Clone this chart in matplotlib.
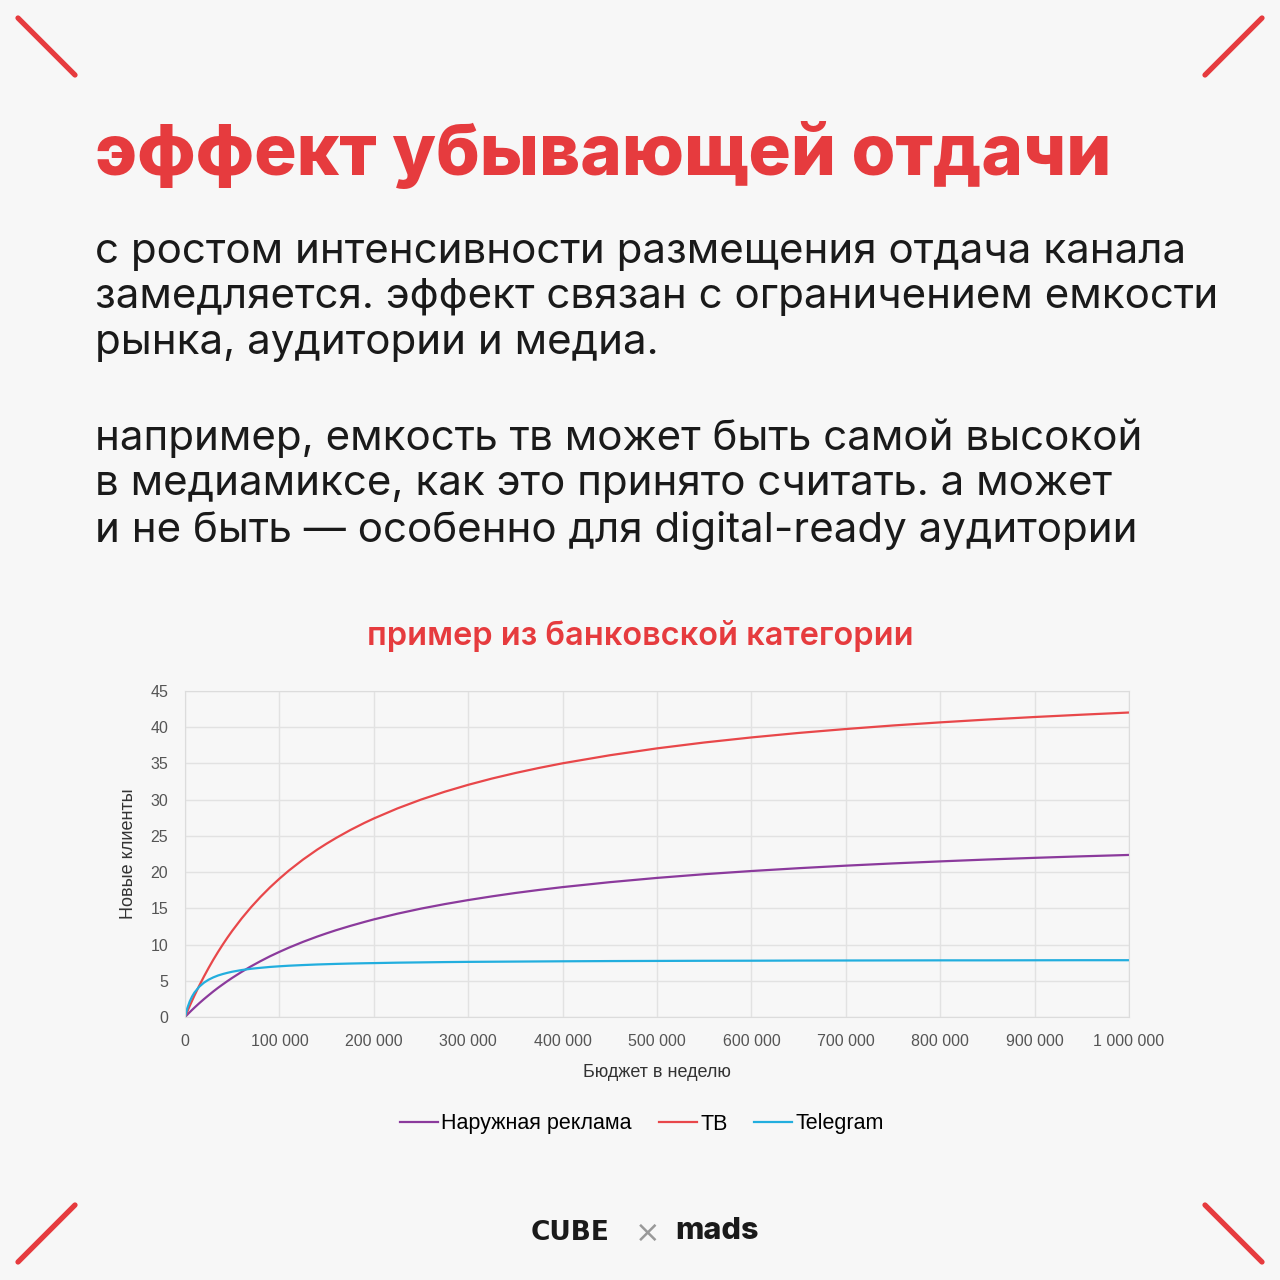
import numpy as np
import matplotlib
matplotlib.use("Agg")
import matplotlib.pyplot as plt
from matplotlib.lines import Line2D
from matplotlib.ticker import FuncFormatter, MultipleLocator

# budget per week and new clients
budget = [0, 2500, 5000, 7500, 10000, 15000, 20000, 25000, 30000, 35000, 40000,
          45000, 50000, 60000, 70000, 80000, 90000, 100000, 110000, 125000,
          140000, 150000, 160000, 175000, 190000, 200000, 225000, 250000,
          275000, 300000, 325000, 350000, 375000, 400000, 450000, 500000,
          550000, 600000, 650000, 700000, 750000, 800000, 850000, 900000,
          950000, 1000000]
outdoor = [0, 0.33, 0.66, 0.98, 1.29, 1.89, 2.46, 3.00, 3.53, 4.03, 4.50,
           4.96, 5.40, 6.23, 7.00, 7.71, 8.38, 8.99, 9.57, 10.37,
           11.10, 11.55, 11.98, 12.57, 13.12, 13.47, 14.26, 14.96,
           15.58, 16.14, 16.65, 17.12, 17.54, 17.93, 18.61, 19.20,
           19.71, 20.15, 20.54, 20.89, 21.20, 21.48, 21.74, 21.97,
           22.18, 22.37]
tv = [0, 0.78, 1.53, 2.25, 2.96, 4.30, 5.57, 6.77, 7.91, 8.98, 10.0,
      10.97, 11.89, 13.6, 15.16, 16.58, 17.89, 19.09, 20.21, 21.73,
      23.10, 23.93, 24.71, 25.80, 26.79, 27.40, 28.79, 30.01,
      31.09, 32.05, 32.91, 33.68, 34.38, 35.02, 36.13, 37.08,
      37.89, 38.59, 39.21, 39.75, 40.24, 40.67, 41.06, 41.41,
      41.73, 42.03]
telegram = [0, 1.23, 2.14, 2.83, 3.37, 4.17, 4.73, 5.15, 5.47, 5.73, 5.93,
            6.10, 6.25, 6.48, 6.66, 6.79, 6.91, 7.00, 7.08, 7.17,
            7.25, 7.29, 7.33, 7.38, 7.42, 7.44, 7.50, 7.54,
            7.58, 7.61, 7.63, 7.65, 7.67, 7.69, 7.72, 7.74,
            7.76, 7.77, 7.79, 7.80, 7.81, 7.82, 7.82, 7.83,
            7.84, 7.84]
series_names = ["Наружная реклама", "ТВ", "Telegram"]
series_colors = ["#8b3a9c", "#e8474a", "#22aede"]

RED = "#e63b3e"
BG = "#f7f7f7"
W = 1280.0

def fx(px):
    return px / W

def fy(py):
    return 1 - py / W

fig = plt.figure(figsize=(12.8, 12.8), dpi=100, facecolor=BG)

# corner marks
for x0, y0, x1, y1 in [(18, 18, 75, 75), (1262, 18, 1205, 75),
                       (18, 1262, 75, 1205), (1205, 1205, 1262, 1262)]:
    fig.add_artist(Line2D([fx(x0), fx(x1)], [fy(y0), fy(y1)], color=RED,
                          lw=3.8, solid_capstyle="round"))

fig.text(fx(95), fy(155), "эффект убывающей отдачи", color=RED, fontsize=51,
         fontweight="heavy", family="Inter", va="center", ha="left")

body1 = ("с ростом интенсивности размещения отдача канала\n"
         "замедляется. эффект связан с ограничением емкости\n"
         "рынка, аудитории и медиа.")
body2 = ("например, емкость тв может быть самой высокой\n"
         "в медиамиксе, как это принято считать. а может\n"
         "и не быть — особенно для digital-ready аудитории")
fig.text(fx(95), fy(233), body1, color="#1a1a1a", fontsize=30.3, family="Inter",
         va="top", ha="left", linespacing=1.25)
fig.text(fx(95), fy(418), body2, color="#1a1a1a", fontsize=30.3, family="Inter",
         va="top", ha="left", linespacing=1.25)

fig.text(0.5, fy(636), "пример из банковской категории", color=RED, fontsize=23.4,
         fontweight="semibold", family="Inter", va="center", ha="center")

ax = fig.add_axes([fx(185), fy(1017), fx(1129) - fx(185), (1017 - 691) / W])
ax.set_facecolor(BG)
lines = []
for vals, name, col in zip([outdoor, tv, telegram], series_names, series_colors):
    ln, = ax.plot(budget, vals, color=col, lw=1.6, label=name)
    lines.append(ln)

ax.set_xlim(0, 1000000)
ax.set_ylim(0, 45)
ax.xaxis.set_major_locator(MultipleLocator(100000))
ax.yaxis.set_major_locator(MultipleLocator(5))
ax.xaxis.set_major_formatter(FuncFormatter(lambda v, p: f"{int(v):,}".replace(",", " ")))
ax.grid(True, color="#e2e2e2", lw=1)
ax.set_axisbelow(True)
for s in ax.spines.values():
    s.set_color("#dcdcdc")
ax.tick_params(length=0, labelsize=11.5, colors="#555555", pad=12)
for lbl in ax.get_xticklabels() + ax.get_yticklabels():
    lbl.set_family("Liberation Sans")
ax.set_xlabel("Бюджет в неделю", fontsize=13, color="#333333",
              family="Liberation Sans", labelpad=11)
ax.set_ylabel("Новые клиенты", fontsize=13, color="#333333",
              family="Liberation Sans", labelpad=10)

fig.legend(handles=lines, loc="center", bbox_to_anchor=(fx(642), fy(1124)),
           ncol=3, frameon=False, handlelength=1.77, handletextpad=0.15,
           columnspacing=1.25, prop={"family": "Liberation Sans", "size": 15.5})

# logos
fig.text(fx(570), fy(1233), "CUBE", fontsize=19, fontweight="bold",
         family="DejaVu Sans", color="#1a1a1a", ha="center", va="center")
fig.text(fx(648), fy(1233), "×", fontsize=22, color="#999999",
         family="DejaVu Sans", ha="center", va="center")
fig.text(fx(717), fy(1231), "mads", fontsize=22, fontweight="heavy",
         family="Inter", color="#1a1a1a", ha="center", va="center")

fig.savefig("out.png", dpi=100, facecolor=BG)
